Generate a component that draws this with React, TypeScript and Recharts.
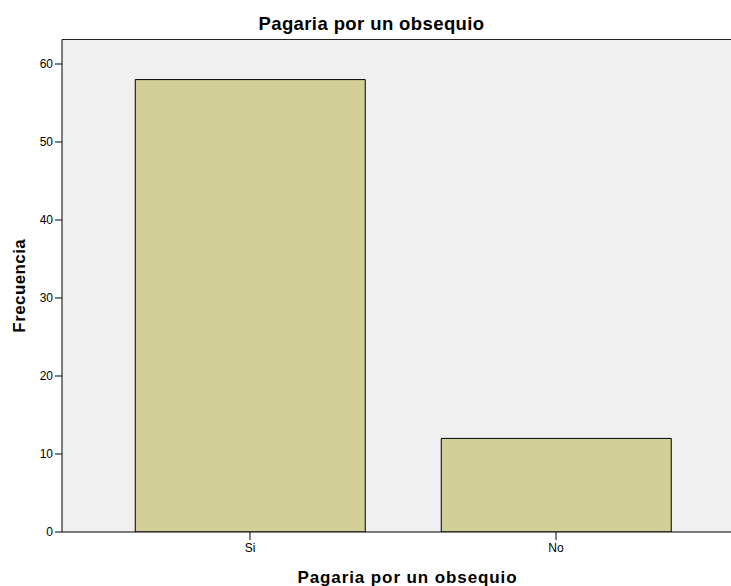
import { BarChart, Bar, XAxis, YAxis, CartesianGrid, ReferenceLine, Label } from "recharts";

// Pagaria por un obsequio - frecuencias (estilo SPSS)
const categories = ["Si", "No"];
const frecuencias = [58, 12];
const yTicks = [0, 10, 20, 30, 40, 50, 60];
const yMax = 63.14;

const FONT = "Arial, 'Liberation Sans', sans-serif";

export default function App() {
  const chartData = categories.map((name, i) => ({
    name,
    frecuencia: frecuencias[i],
  }));

  return (
    <div style={{ position: "absolute", left: 0, top: 0, width: 731, height: 586, background: "#ffffff", fontFamily: FONT }}>
      <div
        style={{
          position: "absolute",
          left: 0,
          top: 15,
          width: 743,
          textAlign: "center",
          fontSize: 18.5,
          lineHeight: "18.5px",
          letterSpacing: 0.4,
          fontWeight: "bold",
          color: "#000",
        }}
      >
        Pagaria por un obsequio
      </div>
      <BarChart
        width={731}
        height={586}
        data={chartData}
        margin={{ top: 39.5, right: 0, left: 0, bottom: 0 }}
        barCategoryGap="12.5%"
        style={{ fontFamily: FONT }}
      >
        <CartesianGrid fill="#f0f0f0" stroke="none" horizontal={false} vertical={false} />
        <XAxis
          dataKey="name"
          height={54}
          padding={{ left: 35, right: 22 }}
          axisLine={{ stroke: "#000", strokeWidth: 1 }}
          tickLine={{ stroke: "#000" }}
          tickSize={8}
          tickMargin={3}
          tick={{ fontSize: 12, fill: "#000" }}
        >
          <Label
            value="Pagaria por un obsequio"
            position="insideBottom"
            offset={3}
            dx={11}
            style={{ fontSize: 17, fontWeight: "bold", fill: "#000", letterSpacing: 0.9 }}
          />
        </XAxis>
        <YAxis
          width={62}
          domain={[0, yMax]}
          ticks={yTicks}
          allowDataOverflow
          axisLine={{ stroke: "#000", strokeWidth: 1 }}
          tickLine={{ stroke: "#000" }}
          tickSize={7}
          tickMargin={2}
          tick={{ fontSize: 12, fill: "#000" }}
        >
          <Label
            value="Frecuencia"
            angle={-90}
            position="insideLeft"
            offset={19}
            style={{ fontSize: 17, fontWeight: "bold", fill: "#000", textAnchor: "middle", letterSpacing: 0.4 }}
          />
        </YAxis>
        <ReferenceLine y={yMax} stroke="#222" strokeWidth={1} />
        <Bar
          dataKey="frecuencia"
          fill="#d3cf98"
          stroke="#000"
          strokeWidth={1}
          isAnimationActive={false}
        />
      </BarChart>
    </div>
  );
}
